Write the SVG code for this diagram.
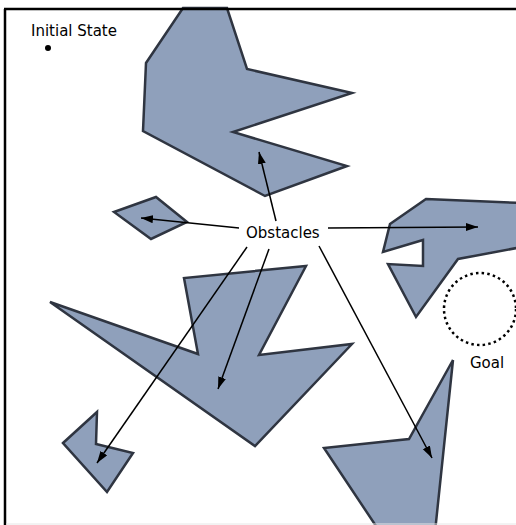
<svg xmlns="http://www.w3.org/2000/svg" width="516" height="525" viewBox="0 0 516 525">
  <style>
    .obs { fill: #8fa0bb; stroke: #2f3541; stroke-width: 2.5; stroke-linejoin: miter; }
    .lbl { font-family: "DejaVu Sans", Verdana, sans-serif; font-size: 15px; fill: #000; }
    .conn { stroke: #000; stroke-width: 1.5; fill: none; marker-end: url(#arrow); }
  </style>
  <defs>
    <marker id="arrow" markerUnits="userSpaceOnUse" markerWidth="13" markerHeight="9" refX="12" refY="4" orient="auto">
      <path d="M0,0 L12,4 L0,8 z" fill="#000"/>
    </marker>
  </defs>
  <rect x="0" y="0" width="516" height="525" fill="#fff"/>

  <g id="obstacle-top">
    <polygon class="obs" points="183,8 227,8 247,69 352,93 233,132 347,166 265,196 143,131 146,63"/>
  </g>
  <g id="obstacle-diamond">
    <polygon class="obs" points="114,212 156,197 187,222 151,239"/>
  </g>
  <g id="obstacle-right">
    <polygon class="obs" points="426,199 522,203 522,247 458,259 416,317 388,264 423,266 423,240 383,252 390,224"/>
  </g>
  <g id="obstacle-middle">
    <polygon class="obs" points="50,302 198,354 184,278 306,266 259,355 352,344 255,446"/>
  </g>
  <g id="obstacle-small">
    <polygon class="obs" points="63,443 97,412 96,444 133,453 107,492"/>
  </g>
  <g id="obstacle-bottom-right">
    <polygon class="obs" points="453,360 435,532 380,532 324,448 409,439"/>
  </g>

  <g id="frame">
    <path d="M4,9 H516 M5,9 V525" stroke="#000" stroke-width="2.5" fill="none"/>
    <line x1="6" y1="524" x2="516" y2="524" stroke="#e6e6e6" stroke-width="1"/>
  </g>

  <g id="initial-state">
    <text class="lbl" x="31" y="36">Initial State</text>
    <circle cx="48" cy="48" r="3" fill="#000"/>
  </g>

  <g id="goal">
    <circle cx="480" cy="309" r="36" fill="none" stroke="#000" stroke-width="2.5" stroke-dasharray="2.5 3.2"/>
    <text class="lbl" x="470" y="368">Goal</text>
  </g>

  <g id="obstacles-label">
    <text class="lbl" x="246" y="238">Obstacles</text>
  </g>

  <g id="connectors">
    <line class="conn" x1="239" y1="228" x2="141" y2="218"/>
    <line class="conn" x1="276" y1="221" x2="259" y2="152"/>
    <line class="conn" x1="328" y1="228" x2="478" y2="227"/>
    <line class="conn" x1="247" y1="247" x2="97" y2="463"/>
    <line class="conn" x1="269" y1="249" x2="218" y2="389"/>
    <line class="conn" x1="319" y1="246" x2="432" y2="458"/>
  </g>
</svg>
